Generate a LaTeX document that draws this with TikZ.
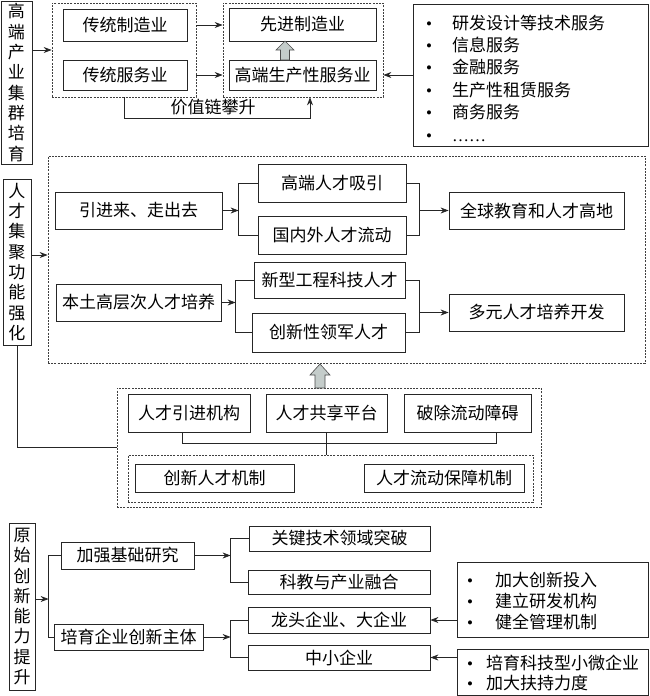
\documentclass[tikz,border=0pt]{standalone}
\usepackage{fontspec}
\setmainfont{Noto Sans CJK SC}
\newfontfamily\bulfont{Liberation Serif}
\usetikzlibrary{arrows.meta}
\tikzset{
 box/.style={draw=black!85, line width=0.8pt, inner sep=0pt, align=center, font=\fontsize{17}{20.3}\selectfont},
 dbox/.style={draw=black!75, line width=0.7pt, dash pattern=on 2pt off 1.2pt, inner sep=0pt},
 arr/.style={draw=black!85, line width=0.8pt, -{Stealth[length=8pt,width=6pt]}},
 ln/.style={draw=black!85, line width=0.8pt},
 blockarrow/.style={draw=black!70, line width=0.6pt, fill={rgb,255:red,196;green,204;blue,202}},
 lsttext/.style={inner sep=0pt, align=left, anchor=west},
 lbl/.style={inner sep=0pt, font=\fontsize{17}{20}\selectfont}
}
\newcommand{\mybox}[7][box]{\node[#1, minimum width={#5-#3}, minimum height={#6-#4}] (#2) at ({(#3+#5)/2},{(#4+#6)/2}) {#7};}
\newcommand{\upblk}[5]{\filldraw[blockarrow] ({#1-#5/2},#2) -- ({#1-#5/2},{#3+#4}) -- ({#1-#5},{#3+#4}) -- (#1,#3) -- ({#1+#5},{#3+#4}) -- ({#1+#5/2},{#3+#4}) -- ({#1+#5/2},#2) -- cycle;}
\newcommand{\bul}{{\bulfont •}}
\begin{document}
\begin{tikzpicture}[x=1pt,y=-1pt]
\useasboundingbox (0,0) rectangle (650,696);
\fill[white] (0,0) rectangle (650,696);
% ---------- section 1 ----------
\mybox{L1}{1}{1}{32}{164}{高\\端\\产\\业\\集\\群\\培\\育}
\mybox[dbox]{D1}{52}{3}{196}{97}{}
\mybox[dbox]{D2}{223}{3}{383}{97}{}
\mybox{a1}{63}{9}{187}{41}{传统制造业}
\mybox{a2}{63}{60}{187}{90}{传统服务业}
\mybox{b1}{229}{8}{376}{41}{先进制造业}
\mybox{b2}{229}{60}{376}{90}{高端生产性服务业}
\mybox{list1}{413}{4}{648}{146}{}
\node[lsttext, font=\fontsize{17}{22.4}\selectfont] (list1t) at (426,78) {\bul\hspace{20pt}研发设计等技术服务\\\bul\hspace{20pt}信息服务\\\bul\hspace{20pt}金融服务\\\bul\hspace{20pt}生产性租赁服务\\\bul\hspace{20pt}商务服务\\\bul\hspace{20pt}{\bulfont ……}};
\draw[arr] (L1.east |- D1.west) -- (D1.west);
\draw[arr] (D1.east |- a1.east) -- (D2.west |- a1.east);
\draw[arr] (D1.east |- a2.east) -- (D2.west |- a2.east);
\draw[arr] (list1.west) -- (list1.west -| D2.east);
\upblk{285}{60}{41}{9}{9}
\coordinate (v2) at ([xshift=7pt]D2.south);
\draw[arr] (D1.south) -- ++(0,21) -| (v2);
\node[lbl] (vlab) at (213,107) {价值链攀升};
% ---------- section 2 ----------
\mybox{L2}{3}{179}{31}{345}{人\\才\\集\\聚\\功\\能\\强\\化}
\mybox[dbox]{D3}{48}{156}{645}{363}{}
\mybox{c1}{55}{192}{222}{229}{引进来、走出去}
\mybox{c2}{258}{164}{406}{202}{高端人才吸引}
\mybox{c3}{258}{216}{406}{254}{国内外人才流动}
\mybox{c4}{449}{192}{624}{229}{全球教育和人才高地}
\mybox{c5}{56}{284}{221}{321}{本土高层次人才培养}
\mybox{c6}{254}{262}{405}{298}{新型工程科技人才}
\mybox{c7}{252}{313}{405}{352}{创新性领军人才}
\mybox{c8}{449}{294}{624}{331}{多元人才培养开发}
\coordinate (l2a) at ([yshift=7pt]L2.east);
\draw[arr] (l2a) -- (l2a -| D3.west);
\coordinate (cb1) at ([xshift=-19pt]c2.west);
\draw[ln] (c2.west) -- (cb1) |- (c3.west);
\draw[arr] (c1.east) -- (c1.east -| cb1);
\coordinate (cr1) at ([xshift=13pt]c2.east);
\draw[ln] (c2.east) -- (cr1) |- (c3.east);
\draw[arr] (cr1 |- c4.west) -- (c4.west);
\coordinate (cb2) at ([xshift=-18pt]c6.west);
\draw[ln] (c6.west) -- (cb2) |- (c7.west);
\draw[arr] (c5.east) -- (c5.east -| cb2);
\coordinate (cr2) at ([xshift=14pt]c6.east);
\draw[ln] (c6.east) -- (cr2) |- (c7.east);
\draw[arr] (cr2 |- c8.west) -- (c8.west);
% lower group
\mybox[dbox]{D4}{117}{388}{541}{507}{}
\mybox[dbox]{D5}{128}{455}{533}{502}{}
\mybox{e1}{128}{394}{250}{432}{人才引进机构}
\mybox{e2}{266}{394}{387}{432}{人才共享平台}
\mybox{e3}{404}{394}{531}{432}{破除流动障碍}
\mybox{f1}{135}{464}{294}{492}{创新人才机制}
\mybox{f2}{364}{464}{524}{492}{人才流动保障机制}
\coordinate (ec1) at ([xshift=-7pt]e1.south);
\coordinate (ec3) at ([xshift=28.5pt]e3.south);
\draw[ln] (ec1) -- ++(0,11) -| (ec3);
\draw[ln] (e2.south) -- (e2.south |- D5.north);
\draw[ln] (L2.south) |- (D4.west);
\upblk{320}{388}{364}{11}{10}
% ---------- section 3 ----------
\mybox{L3}{9}{523}{35}{690}{原\\始\\创\\新\\能\\力\\提\\升}
\mybox{g1}{61}{542}{194}{569}{加强基础研究}
\mybox{g2}{54}{624}{203}{650}{培育企业创新主体}
\mybox{h1}{249}{526}{430}{551}{关键技术领域突破}
\mybox{h2}{248}{570}{430}{594}{科教与产业融合}
\mybox{h3}{248}{607}{430}{633}{龙头企业、大企业}
\mybox{h4}{248}{645}{430}{670}{中小企业}
\mybox{list2}{457}{562}{648}{637}{}
\mybox{list3}{457}{649}{648}{695}{}
\node[lsttext, font=\fontsize{17}{21}\selectfont] (list2t) at (467,601) {\bul\hspace{22pt}加大创新投入\\\bul\hspace{22pt}建立研发机构\\\bul\hspace{22pt}健全管理机制};
\node[lsttext, font=\fontsize{17}{19.5}\selectfont] (list3t) at (467,673) {\bul\hspace{13pt}培育科技型小微企业\\\bul\hspace{13pt}加大扶持力度};
\coordinate (gb) at ([xshift=-12pt]g1.west);
\draw[ln] (g1.west) -- (gb) |- (g2.west);
\coordinate (l3a) at ([yshift=7.5pt]L3.east);
\draw[arr] (l3a) -- (l3a -| gb);
\coordinate (hb1) at ([xshift=-18pt]h1.west);
\draw[ln] (h1.west) -- (hb1) |- (h2.west);
\draw[arr] (g1.east) -- (g1.east -| hb1);
\coordinate (hb2) at ([xshift=-17pt]h3.west);
\draw[ln] (h3.west) -- (hb2) |- (h4.west);
\draw[arr] (g2.east) -- (g2.east -| hb2);
\draw[arr] (list2.west |- h3.east) -- (h3.east);
\draw[arr] (list3.west |- h4.east) -- (h4.east);
\end{tikzpicture}
\end{document}
